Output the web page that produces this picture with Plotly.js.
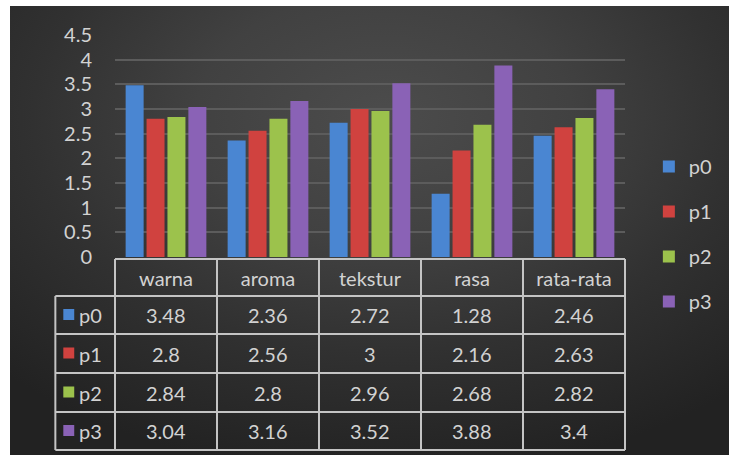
<!DOCTYPE html>
<html>
<head>
<meta charset="utf-8">
<script src="https://cdn.plot.ly/plotly-3.0.1.min.js"></script>
<style>
  html, body { margin: 0; padding: 0; background: #ffffff; width: 729px; height: 455px; overflow: hidden; }
  #bg { position: absolute; left: 10px; top: 6px; width: 719px; height: 449px;
        background: radial-gradient(ellipse 75% 80% at 52% 25%, #4c4c4c 0%, #414141 35%, #313131 65%, #222222 100%); }
  #chart { position: absolute; left: 0; top: 0; width: 729px; height: 455px; }
</style>
</head>
<body>
<div id="bg"></div>
<div id="chart"></div>
<script>
// ---- data ----
const categories = ["warna", "aroma", "tekstur", "rasa", "rata-rata"];
const seriesNames = ["p0", "p1", "p2", "p3"];
const p0 = [3.48, 2.36, 2.72, 1.28, 2.46];
const p1 = [2.8, 2.56, 3, 2.16, 2.63];
const p2 = [2.84, 2.8, 2.96, 2.68, 2.82];
const p3 = [3.04, 3.16, 3.52, 3.88, 3.4];
const yTicks = [0, 0.5, 1, 1.5, 2, 2.5, 3, 3.5, 4, 4.5];

const seriesValues = [p0, p1, p2, p3];
const colors = ["#4a86d2", "#d0423f", "#9cc24c", "#8a62b6"];
const textColor = "#d2d2d2";
const lineColor = "#c4c4c4";
const FONT = "Lato, 'Open Sans', sans-serif";
const FS = 20;

// layout geometry (pixels)
const W = 729, H = 455;
const M = { l: 115, r: 101, t: 35, b: 198 };
const plotH = H - M.t - M.b;
const plotW = W - M.l - M.r;
const py = v => (H - M.b - v) / plotH;       // pixel y -> paper y
const px = v => (v - M.l) / plotW;           // pixel x -> paper x

const traces = seriesNames.map((name, i) => ({
  type: "bar",
  name: name,
  x: categories,
  y: seriesValues[i],
  marker: { color: colors[i], line: { width: 0 } },
  legendgroup: name,
  hoverinfo: "skip"
}));

// table geometry
const rowEdges = [259, 296, 334, 373, 412, 450];
const leftEdge = 55;
const shapes = [];
const annotations = [];
const ln = { color: lineColor, width: 2 };

rowEdges.forEach((yy, k) => {
  shapes.push({ type: "line", xref: "paper", yref: "paper",
    x0: k === 0 ? 0 : px(leftEdge), x1: 1, y0: py(yy), y1: py(yy), line: ln });
});
for (let i = 0; i <= categories.length; i++) {
  shapes.push({ type: "line", xref: "paper", yref: "paper",
    x0: i / categories.length, x1: i / categories.length,
    y0: py(rowEdges[0]), y1: py(rowEdges[rowEdges.length - 1]), line: ln });
}
shapes.push({ type: "line", xref: "paper", yref: "paper",
  x0: px(leftEdge), x1: px(leftEdge), y0: py(rowEdges[1]), y1: py(rowEdges[rowEdges.length - 1]), line: ln });

seriesNames.forEach((name, r) => {
  const yc = (rowEdges[r + 1] + rowEdges[r + 2]) / 2;
  shapes.push({ type: "rect", xref: "paper", yref: "paper",
    x0: px(63), x1: px(74), y0: py(yc - 6), y1: py(yc + 5),
    fillcolor: colors[r], line: { width: 0 } });
  annotations.push({ xref: "paper", yref: "paper", x: px(77), y: py(yc),
    xanchor: "left", yanchor: "middle", text: name, showarrow: false,
    font: { family: FONT, size: FS, color: textColor } });
  categories.forEach((c, j) => {
    annotations.push({ xref: "paper", yref: "paper",
      x: (j + 0.5) / categories.length, y: py(yc),
      xanchor: "center", yanchor: "middle", text: String(seriesValues[r][j]),
      showarrow: false, font: { family: FONT, size: FS, color: textColor } });
  });
});

const layout = {
  width: W, height: H,
  margin: M,
  paper_bgcolor: "rgba(0,0,0,0)",
  plot_bgcolor: "rgba(0,0,0,0)",
  barmode: "group",
  bargap: 0.18,
  bargroupgap: 0.14,
  showlegend: true,
  legend: {
    x: px(652), xanchor: "left", y: py(147), yanchor: "top",
    font: { family: FONT, size: FS, color: textColor },
    tracegroupgap: 16, bgcolor: "rgba(0,0,0,0)", itemwidth: 30
  },
  xaxis: {
    type: "category",
    range: [-0.5, categories.length - 0.5],
    showgrid: false, zeroline: false, showline: false,
    ticks: "", ticklabelstandoff: 8,
    tickfont: { family: FONT, size: FS, color: textColor },
    fixedrange: true
  },
  yaxis: {
    range: [0, 4.5],
    tickmode: "array", tickvals: yTicks, ticktext: yTicks.map(String),
    showgrid: true, gridcolor: "#5c5c5c", gridwidth: 2,
    zeroline: false, showline: false, ticks: "",
    ticklabelstandoff: 22,
    tickfont: { family: FONT, size: FS, color: textColor },
    fixedrange: true
  },
  shapes: shapes,
  annotations: annotations
};

Plotly.newPlot("chart", traces, layout, { displayModeBar: false, staticPlot: true });
</script>
</body>
</html>
